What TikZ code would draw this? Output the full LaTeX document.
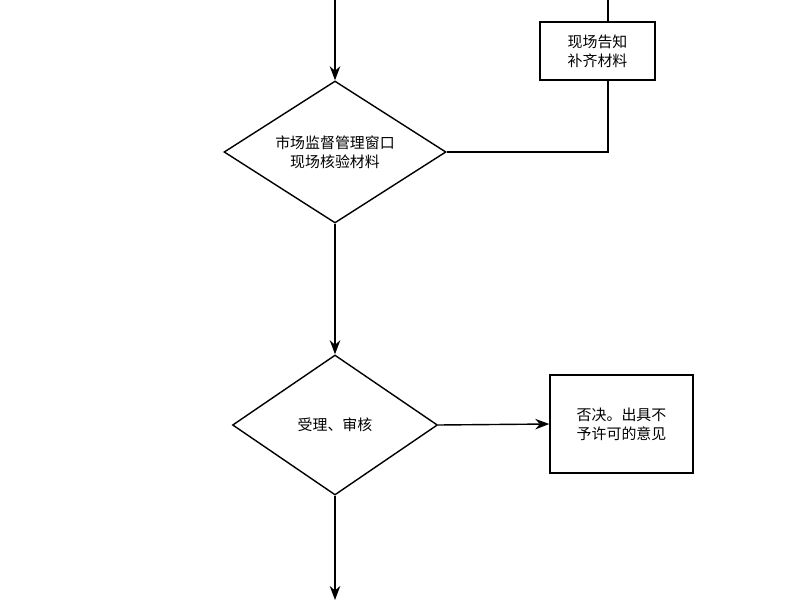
\documentclass[tikz,border=0pt]{standalone}
\usepackage{fontspec}
\setmainfont{Noto Sans CJK SC}
\usetikzlibrary{shapes.geometric,arrows.meta}
\tikzset{
  flow/.style={thick,-{Stealth[length=8pt,width=6pt]}},
  line/.style={thick},
  check/.style={diamond,draw,thick,aspect=1.56,inner sep=0pt,minimum width=4.44cm,minimum height=2.84cm,align=center,font=\fontsize{8.5pt}{11pt}\selectfont},
  box/.style={rectangle,draw,thick,align=center,inner sep=0pt,font=\fontsize{8.5pt}{11pt}\selectfont}
}
\begin{document}
\begin{tikzpicture}
\useasboundingbox (0,0) rectangle (16,12);
\fill[white] (0,0) rectangle (16,12);

% top entry
\coordinate (in) at (6.7,12);
\node[check] (verify) at (6.7,8.96) {市场监督管理窗口\\现场核验材料};
\node[box,minimum width=2.3cm,minimum height=1.16cm] (notify) at (11.95,10.98) {现场告知\\补齐材料};
\coordinate (nt) at (12.16,12);
\coordinate (turn) at (12.16,8.96);

\draw[flow] (in) -- (verify.north);
\draw[line] (notify.north -| nt) -- (nt);
\draw[line] (notify.south -| turn) -- (turn) -- (verify.east);

% accept and review
\node[check,minimum width=4.1cm,minimum height=2.8cm] (review) at (6.7,3.5) {受理、审核};
\node[box,minimum width=2.86cm,minimum height=1.96cm] (reject) at (12.43,3.52) {否决。出具不\\予许可的意见};
\coordinate (out) at (6.7,0);

\draw[flow] (verify.south) -- (review.north);
\draw[flow] (review.east) -- (reject.west);
\draw[flow] (review.south) -- (out);
\end{tikzpicture}
\end{document}
